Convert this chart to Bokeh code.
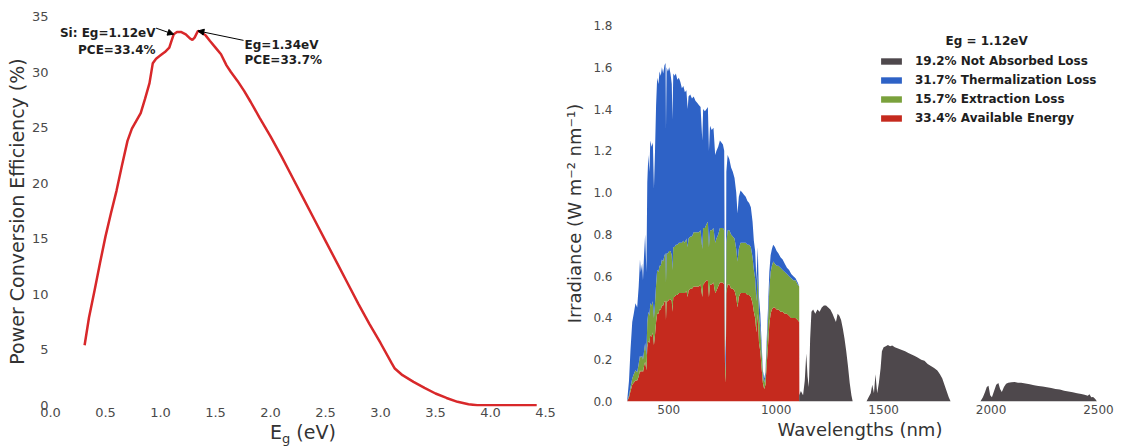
from bokeh.plotting import figure
from bokeh.layouts import row, column
from bokeh.models import (Range1d, FixedTicker, PrintfTickFormatter, Label, Arrow,
                          NormalHead, Legend, LegendItem, Div)
from bokeh.embed import file_html
from bokeh.resources import INLINE

FONT = "DejaVu Sans"
TICK_COLOR = "#4a4a4a"
LABEL_COLOR = "#333333"

# ---------------- Left panel: PCE vs band gap ----------------
eg_ev = [0.31, 0.35, 0.40, 0.45, 0.50, 0.55, 0.60, 0.65, 0.70, 0.74,
         0.78, 0.82, 0.86, 0.90, 0.93, 0.96, 1.00, 1.04, 1.08, 1.10,
         1.12, 1.15, 1.19, 1.23, 1.27, 1.29, 1.31, 1.34, 1.37, 1.41,
         1.45, 1.50, 1.55, 1.60, 1.64, 1.70, 1.76, 1.82, 1.90, 2.00,
         2.10, 2.20, 2.30, 2.40, 2.50, 2.60, 2.70, 2.80, 2.90, 3.00,
         3.10, 3.13, 3.20, 3.30, 3.40, 3.50, 3.60, 3.70, 3.80, 3.88,
         4.00, 4.20, 4.42]
pce_pct = [5.4, 7.9, 10.3, 12.8, 15.2, 17.3, 19.3, 21.6, 23.8, 24.9,
           25.6, 26.3, 27.6, 29.0, 30.8, 31.2, 31.5, 31.8, 32.2, 32.8,
           33.4, 33.6, 33.6, 33.4, 33.0, 32.9, 33.1, 33.7, 33.6, 33.3,
           32.8, 32.2, 31.6, 30.6, 30.0, 29.2, 28.3, 27.3, 25.9, 24.2,
           22.4, 20.5, 18.6, 16.7, 14.8, 12.9, 11.0, 9.1, 7.3, 5.6,
           3.8, 3.3, 2.7, 2.1, 1.55, 1.05, 0.65, 0.3, 0.08, 0.0,
           0.0, 0.0, 0.0]
eg_ticks = [0.0, 0.5, 1.0, 1.5, 2.0, 2.5, 3.0, 3.5, 4.0, 4.5]
pce_ticks = [0, 5, 10, 15, 20, 25, 30, 35]
si_point = (1.12, 33.4)
best_point = (1.34, 33.7)

# ---------------- Right panel: AM1.5 spectrum losses ----------------
wl_abs = [306, 315, 322, 330, 337, 345, 353, 360, 366, 370,
          376, 380, 385, 390, 396, 400, 405, 410, 414, 420,
          426, 431, 436, 441, 446, 452, 457, 463, 468, 474,
          480, 485, 487, 490, 496, 502, 508, 514, 517, 521,
          527, 533, 540, 547, 554, 561, 568, 575, 582, 588,
          592, 600, 608, 616, 624, 632, 640, 648, 656, 660,
          668, 676, 682, 687, 692, 700, 708, 716, 722, 730,
          738, 745, 752, 758, 762, 765, 768, 774, 782, 790,
          798, 806, 814, 820, 826, 834, 842, 850, 858, 866,
          874, 882, 890, 896, 902, 908, 914, 920, 926, 932,
          938, 944, 950, 956, 962, 968, 974, 980, 986, 994,
          1002, 1010, 1020, 1030, 1040, 1050, 1060, 1070, 1080, 1090,
          1100, 1107, 1108]
irr_total = [0.00, 0.10, 0.25, 0.38, 0.42, 0.47, 0.45, 0.55, 0.68, 0.62,
             0.66, 0.58, 0.70, 0.80, 0.62, 1.05, 1.18, 1.10, 1.25, 1.22,
             1.24, 1.02, 1.20, 1.42, 1.55, 1.52, 1.58, 1.56, 1.60, 1.57,
             1.61, 1.62, 1.30, 1.60, 1.58, 1.60, 1.57, 1.52, 1.35, 1.57,
             1.56, 1.57, 1.54, 1.55, 1.53, 1.50, 1.51, 1.48, 1.49, 1.40,
             1.46, 1.47, 1.45, 1.46, 1.44, 1.43, 1.42, 1.41, 1.25, 1.40,
             1.39, 1.40, 1.41, 1.20, 1.32, 1.30, 1.31, 1.18, 1.20, 1.22,
             1.25, 1.24, 1.23, 1.20, 0.30, 0.20, 1.10, 1.18, 1.16, 1.12,
             1.10, 1.07, 1.00, 0.90, 0.98, 1.01, 1.00, 0.99, 0.98, 0.96,
             0.95, 0.93, 0.86, 0.77, 0.72, 0.58, 0.74, 0.50, 0.42, 0.28,
             0.15, 0.11, 0.14, 0.30, 0.45, 0.62, 0.70, 0.73, 0.75, 0.74,
             0.72, 0.71, 0.69, 0.68, 0.66, 0.64, 0.63, 0.61, 0.60, 0.59,
             0.57, 0.55, 0.00]
irr_extract = [0.00, 0.03, 0.07, 0.11, 0.13, 0.15, 0.14, 0.18, 0.22, 0.21,
               0.22, 0.20, 0.24, 0.28, 0.22, 0.38, 0.43, 0.41, 0.47, 0.46,
               0.48, 0.40, 0.47, 0.56, 0.63, 0.62, 0.65, 0.65, 0.68, 0.67,
               0.70, 0.71, 0.57, 0.71, 0.71, 0.72, 0.72, 0.70, 0.63, 0.74,
               0.74, 0.75, 0.75, 0.76, 0.76, 0.76, 0.77, 0.76, 0.78, 0.74,
               0.78, 0.79, 0.79, 0.81, 0.81, 0.81, 0.81, 0.82, 0.73, 0.83,
               0.83, 0.85, 0.86, 0.74, 0.82, 0.82, 0.83, 0.76, 0.78, 0.80,
               0.83, 0.83, 0.83, 0.82, 0.21, 0.14, 0.76, 0.82, 0.82, 0.80,
               0.79, 0.78, 0.73, 0.67, 0.73, 0.76, 0.76, 0.76, 0.76, 0.75,
               0.75, 0.74, 0.69, 0.63, 0.59, 0.48, 0.61, 0.42, 0.35, 0.24,
               0.13, 0.09, 0.12, 0.26, 0.39, 0.54, 0.62, 0.65, 0.67, 0.66,
               0.65, 0.65, 0.64, 0.63, 0.62, 0.61, 0.60, 0.59, 0.58, 0.58,
               0.56, 0.55, 0.00]
irr_avail = [0.00, 0.02, 0.05, 0.08, 0.09, 0.10, 0.10, 0.12, 0.15, 0.14,
             0.15, 0.14, 0.17, 0.19, 0.15, 0.26, 0.29, 0.28, 0.32, 0.31,
             0.33, 0.27, 0.32, 0.38, 0.42, 0.42, 0.44, 0.44, 0.46, 0.46,
             0.48, 0.48, 0.39, 0.48, 0.48, 0.49, 0.49, 0.48, 0.43, 0.50,
             0.50, 0.51, 0.51, 0.52, 0.52, 0.52, 0.52, 0.52, 0.53, 0.50,
             0.53, 0.54, 0.54, 0.55, 0.55, 0.55, 0.55, 0.56, 0.50, 0.56,
             0.57, 0.58, 0.58, 0.50, 0.56, 0.56, 0.57, 0.52, 0.53, 0.55,
             0.57, 0.57, 0.57, 0.56, 0.14, 0.09, 0.52, 0.56, 0.56, 0.54,
             0.54, 0.53, 0.50, 0.45, 0.50, 0.52, 0.52, 0.52, 0.52, 0.51,
             0.51, 0.50, 0.47, 0.43, 0.40, 0.33, 0.42, 0.28, 0.24, 0.16,
             0.09, 0.06, 0.08, 0.18, 0.27, 0.37, 0.42, 0.44, 0.45, 0.45,
             0.44, 0.44, 0.43, 0.43, 0.42, 0.42, 0.41, 0.40, 0.40, 0.40,
             0.39, 0.38, 0.00]
wl_na = [1107, 1115, 1125, 1133, 1140, 1146, 1152, 1158, 1164, 1172,
         1182, 1192, 1202, 1212, 1222, 1232, 1242, 1252, 1262, 1270,
         1278, 1286, 1294, 1302, 1310, 1318, 1326, 1334, 1342, 1350,
         1356, 1420, 1430, 1440, 1447, 1455, 1462, 1470, 1478, 1486,
         1492, 1500, 1510, 1520, 1530, 1540, 1552, 1564, 1576, 1588,
         1600, 1615, 1630, 1645, 1660, 1675, 1690, 1705, 1720, 1735,
         1750, 1762, 1773, 1783, 1793, 1803, 1812, 1950, 1962, 1972,
         1980, 1988, 1996, 2004, 2014, 2024, 2034, 2042, 2050, 2060,
         2070, 2080, 2095, 2110, 2125, 2140, 2160, 2180, 2200, 2220,
         2240, 2260, 2280, 2300, 2320, 2340, 2360, 2380, 2400, 2420,
         2435, 2450, 2458, 2466, 2475, 2485, 2493]
irr_na = [0.03, 0.05, 0.03, 0.10, 0.23, 0.12, 0.07, 0.30, 0.43, 0.44,
          0.42, 0.44, 0.43, 0.45, 0.46, 0.46, 0.45, 0.44, 0.42, 0.40,
          0.38, 0.42, 0.41, 0.39, 0.35, 0.30, 0.24, 0.17, 0.09, 0.03,
          0.00, 0.00, 0.02, 0.04, 0.08, 0.04, 0.13, 0.04, 0.09, 0.16,
          0.24, 0.26, 0.265, 0.27, 0.265, 0.268, 0.26, 0.255, 0.25, 0.245,
          0.24, 0.232, 0.225, 0.218, 0.21, 0.20, 0.195, 0.18, 0.17, 0.16,
          0.148, 0.13, 0.11, 0.08, 0.05, 0.02, 0.00, 0.00, 0.02, 0.045,
          0.07, 0.075, 0.03, 0.02, 0.05, 0.08, 0.088, 0.06, 0.045, 0.07,
          0.085, 0.09, 0.092, 0.093, 0.09, 0.09, 0.086, 0.082, 0.078, 0.074,
          0.072, 0.068, 0.065, 0.06, 0.057, 0.052, 0.048, 0.044, 0.04, 0.036,
          0.032, 0.028, 0.035, 0.02, 0.022, 0.012, 0.00]
wl_ticks = [500, 1000, 1500, 2000, 2500]
irr_ticks = [0.0, 0.2, 0.4, 0.6, 0.8, 1.0, 1.2, 1.4, 1.6, 1.8]
legend_labels = ["19.2% Not Absorbed Loss", "31.7% Thermalization Loss",
                 "15.7% Extraction Loss", "33.4% Available Energy"]
legend_title = "Eg = 1.12eV"

C_GRAY = "#4e484c"
C_BLUE = "#2e62c6"
C_GREEN = "#7aa13c"
C_RED = "#c52a1e"
C_LINE = "#d8282a"


def style(p):
    p.outline_line_color = None
    p.grid.grid_line_color = None
    p.background_fill_color = "white"
    p.border_fill_color = "white"
    for ax in p.axis:
        ax.axis_line_color = None
        ax.major_tick_line_color = None
        ax.minor_tick_line_color = None
        ax.major_tick_out = 0
        ax.major_tick_in = 0
        ax.minor_tick_out = 0
        ax.minor_tick_in = 0
        ax.major_label_text_font = FONT
        ax.major_label_text_color = TICK_COLOR
        ax.axis_label_text_font = FONT
        ax.axis_label_text_font_style = "normal"
        ax.axis_label_text_color = LABEL_COLOR


# ---------- left figure ----------
p1 = figure(width=560, height=425, output_backend="svg", toolbar_location=None,
            x_range=Range1d(0, 4.5), y_range=Range1d(-0.12, 35),
            min_border_left=50, min_border_right=15, min_border_top=16,
            min_border_bottom=19)
style(p1)
p1.xaxis.ticker = FixedTicker(ticks=eg_ticks)
p1.xaxis.formatter = PrintfTickFormatter(format="%.1f")
p1.yaxis.ticker = FixedTicker(ticks=pce_ticks)
p1.yaxis.formatter = PrintfTickFormatter(format="%d")
p1.xaxis.major_label_text_font_size = "13px"
p1.yaxis.major_label_text_font_size = "13px"
p1.xaxis.major_label_standoff = 1
p1.yaxis.major_label_standoff = 2
p1.yaxis.axis_label = "Power Conversion Efficiency (%)"
p1.yaxis.axis_label_text_font_size = "19px"
p1.yaxis.axis_label_standoff = 1

p1.line(eg_ev, pce_pct, line_width=2.5, line_color=C_LINE)

ann_kw = dict(text_font=FONT, text_font_size="12px", text_font_style="bold",
              text_color="#1e1e1e", text_baseline="middle")
p1.add_layout(Label(x=0.955, y=33.47, text="Si: Eg=1.12eV", text_align="right", **ann_kw))
p1.add_layout(Label(x=0.955, y=31.94, text="PCE=33.4%", text_align="right", **ann_kw))
p1.add_layout(Label(x=1.764, y=32.39, text="Eg=1.34eV", text_align="left", **ann_kw))
p1.add_layout(Label(x=1.764, y=31.04, text="PCE=33.7%", text_align="left", **ann_kw))
p1.add_layout(Arrow(x_start=0.96, y_start=33.95, x_end=si_point[0], y_end=si_point[1],
                    line_color="black", line_width=1,
                    end=NormalHead(size=6, fill_color="black", line_color="black")))
p1.add_layout(Arrow(x_start=1.755, y_start=32.85, x_end=best_point[0], y_end=best_point[1],
                    line_color="black", line_width=1,
                    end=NormalHead(size=6, fill_color="black", line_color="black")))

# x-axis title of the left panel, E_g (eV) with a real subscript
eg_title = Div(
    text=('<div style="margin:-4px 0 0 0; padding:0 0 0 270px; '
          "font-family:'DejaVu Sans',sans-serif; font-size:19px; line-height:22px; "
          'color:#333333; white-space:nowrap;">E<span style="font-size:13px; '
          'vertical-align:-4px;">g</span> (eV)</div>'),
    width=560, height=22, margin=0)

# ---------- right figure ----------
p2 = figure(width=562, height=447, output_backend="svg", toolbar_location=None,
            x_range=Range1d(280, 2500), y_range=Range1d(0, 1.8),
            min_border_left=61, min_border_right=24, min_border_top=25,
            min_border_bottom=46)
style(p2)
p2.xaxis.ticker = FixedTicker(ticks=wl_ticks)
p2.xaxis.formatter = PrintfTickFormatter(format="%d")
p2.yaxis.ticker = FixedTicker(ticks=irr_ticks)
p2.yaxis.formatter = PrintfTickFormatter(format="%.1f")
p2.xaxis.major_label_text_font_size = "12px"
p2.yaxis.major_label_text_font_size = "12px"
p2.xaxis.major_label_standoff = 3
p2.yaxis.major_label_standoff = 9
p2.xaxis.axis_label = "Wavelengths (nm)"
p2.yaxis.axis_label = "Irradiance (W m\u207b\u00b2 nm\u207b\u00b9)"
p2.xaxis.axis_label_text_font_size = "18px"
p2.yaxis.axis_label_text_font_size = "18px"
p2.xaxis.axis_label_standoff = 2
p2.yaxis.axis_label_standoff = 5

r_red = p2.varea(x=wl_abs, y1=0, y2=irr_avail, fill_color=C_RED)
r_green = p2.varea(x=wl_abs, y1=irr_avail, y2=irr_extract, fill_color=C_GREEN)
r_blue = p2.varea(x=wl_abs, y1=irr_extract, y2=irr_total, fill_color=C_BLUE)
r_gray = p2.varea(x=wl_na, y1=0, y2=irr_na, fill_color=C_GRAY)

legend = Legend(items=[LegendItem(label=legend_labels[0], renderers=[r_gray]),
                       LegendItem(label=legend_labels[1], renderers=[r_blue]),
                       LegendItem(label=legend_labels[2], renderers=[r_green]),
                       LegendItem(label=legend_labels[3], renderers=[r_red])],
                location=(257, 274), orientation="vertical",
                background_fill_alpha=0, border_line_color=None,
                padding=0, margin=0, spacing=0, label_height=19,
                glyph_height=8, glyph_width=26, label_standoff=11,
                label_text_font=FONT, label_text_font_size="12px",
                label_text_font_style="bold", label_text_color="#1e1e1e")
p2.add_layout(legend)
p2.add_layout(Label(x=1979, y=1.728, text=legend_title, text_align="center",
                    text_baseline="middle", text_font=FONT, text_font_size="12px",
                    text_font_style="bold", text_color="#1e1e1e"))

layout = row(column(p1, eg_title), p2)
open("out.html", "w").write(file_html(layout, INLINE, "Solar cell efficiency"))
